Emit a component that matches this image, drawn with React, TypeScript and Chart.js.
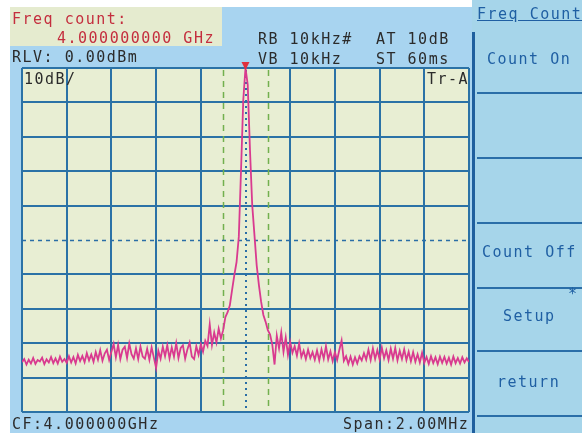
import React, { useEffect, useRef } from "react";
import { Chart, registerables } from "chart.js";

Chart.register(...registerables);

// ---- data ----
const SPAN_START_KHZ = -1000;
const STEP_KHZ = 10;
const levelsDbm = [
  -85.5, -84.6, -86.2, -84.8, -85.9, -84.3, -86.0, -84.9, -85.3, -84.2, -86.1, -84.7, -85.6, -84.0, -85.8, -84.4, -85.9, -83.9, -85.4, -84.6, -85.7,
  -83.8, -85.6, -84.0, -85.9, -83.4, -85.2, -83.7, -85.5, -82.9, -85.0, -83.3, -85.4, -82.6, -84.8, -82.0, -85.1, -83.0, -81.9, -84.9, -82.5,
  -80.2, -84.1, -80.5, -84.6, -81.9, -81.0, -84.3, -80.1, -83.2, -84.5, -81.5, -84.6, -81.0, -83.9, -84.5, -81.6, -84.8, -81.2, -84.2, -87.2,
  -82.2, -84.5, -81.0, -83.8, -80.6, -84.4, -81.2, -83.9, -80.0, -84.3, -81.4, -80.6, -84.5, -81.8, -79.8, -83.9, -84.6, -80.9, -83.4, -80.3,
  -82.5, -79.3, -80.8, -74.5, -80.5, -76.9, -79.8, -75.8, -78.6, -76.2,
  -72.4, -71.0, -69.0, -64.5, -60.2, -56.4, -49.1, -29.7, -9.3, 0.0,
  -4.9, -23.8, -39.8, -48.5, -57.3, -63.1, -68.0, -71.8, -73.8, -76.2,
  -77.5, -80.5, -86.2, -77.8, -81.5, -76.9, -82.5, -78.3, -83.4, -79.6,
  -82.8, -80.9, -83.6, -80.1, -84.0, -82.2, -84.6, -81.9, -84.3, -82.6,
  -84.8, -82.1, -85.0, -81.8, -84.5, -80.9, -84.7, -82.4, -85.2, -82.6,
  -84.9, -81.9, -79.2, -85.1, -83.8, -86.0, -83.9, -86.2, -84.1, -85.9,
  -83.8, -85.0, -82.9, -84.8, -81.9, -84.9, -81.5, -84.6, -82.0, -84.7,
  -81.3, -84.4, -82.1, -84.9, -81.6, -84.5, -81.4, -85.0, -82.2, -84.6,
  -81.8, -84.9, -82.5, -85.3, -82.6, -85.4, -83.2, -85.6, -82.8, -85.7,
  -84.0, -86.0, -83.8, -85.8, -84.1, -86.1, -83.9, -85.7, -84.0, -85.9,
  -84.2, -86.2, -83.9, -85.8, -84.3, -85.9, -84.1, -85.6, -84.4, -85.5,
];
const freqOffsetsKHz = levelsDbm.map((_, i) => SPAN_START_KHZ + i * STEP_KHZ);
const countWindowKHz = [-100, 100];
const displayLineDbm = -50;
const refLevelDbm = 0;
const bottomDbm = -100;
const dbPerDiv = 10;
const kHzPerDiv = 200;

const MONO = "'DejaVu Sans Mono', monospace";

const txt = (
  s: string,
  left: number,
  top: number,
  color: string,
  extra: React.CSSProperties = {}
) => (
  <div
    style={{
      position: "absolute",
      left,
      top,
      color,
      fontFamily: MONO,
      fontSize: 15,
      lineHeight: "15px",
      letterSpacing: "1.5px",
      whiteSpace: "pre",
      ...extra,
    }}
  >
    {s}
  </div>
);

const overlayPlugin = {
  id: "saOverlay",
  beforeDraw(chart: any) {
    const { ctx, chartArea } = chart;
    ctx.save();
    ctx.fillStyle = "#e8eed3";
    ctx.fillRect(chartArea.left, chartArea.top, chartArea.right - chartArea.left, chartArea.bottom - chartArea.top);
    ctx.restore();
  },
  beforeDatasetsDraw(chart: any) {
    const { ctx, chartArea, scales } = chart;
    const xs = scales.x;
    const ys = scales.y;
    ctx.save();
    // frequency-count window markers
    ctx.strokeStyle = "#72b04e";
    ctx.lineWidth = 1.5;
    ctx.setLineDash([6, 5]);
    for (const f of countWindowKHz) {
      const px = Math.round(xs.getPixelForValue(f)) + 0.5;
      ctx.beginPath();
      ctx.moveTo(px, chartArea.top + 2);
      ctx.lineTo(px, chartArea.bottom - 2);
      ctx.stroke();
    }
    // center dotted line
    ctx.strokeStyle = "#2a6ea6";
    ctx.lineWidth = 2;
    ctx.setLineDash([2, 4]);
    const cx = Math.round(xs.getPixelForValue(0));
    ctx.beginPath();
    ctx.moveTo(cx, chartArea.top + 2);
    ctx.lineTo(cx, chartArea.bottom - 2);
    ctx.stroke();
    // display line
    ctx.lineWidth = 1.5;
    ctx.setLineDash([4, 4]);
    const dy = Math.round(ys.getPixelForValue(displayLineDbm)) + 0.5;
    ctx.beginPath();
    ctx.moveTo(chartArea.left, dy);
    ctx.lineTo(chartArea.right, dy);
    ctx.stroke();
    ctx.restore();
  },
  afterDatasetsDraw(chart: any) {
    const { ctx, scales } = chart;
    let mi = 0;
    levelsDbm.forEach((v, i) => {
      if (v > levelsDbm[mi]) mi = i;
    });
    const px = scales.x.getPixelForValue(freqOffsetsKHz[mi]);
    const py = scales.y.getPixelForValue(levelsDbm[mi]);
    ctx.save();
    ctx.fillStyle = "#e0303c";
    ctx.beginPath();
    ctx.moveTo(px - 4, py - 6);
    ctx.lineTo(px + 4, py - 6);
    ctx.lineTo(px, py + 2);
    ctx.closePath();
    ctx.fill();
    ctx.restore();
  },
};

export default function App() {
  const ref = useRef<HTMLCanvasElement | null>(null);

  useEffect(() => {
    if (!ref.current) return;
    const gridColor = "#2b72a6";
    const chart = new Chart(ref.current, {
      type: "line",
      data: {
        datasets: [
          {
            data: freqOffsetsKHz.map((f, i) => ({ x: f, y: levelsDbm[i] })),
            borderColor: "#d93a8f",
            borderWidth: 1.8,
            pointRadius: 0,
            tension: 0,
          },
        ],
      },
      options: {
        responsive: false,
        animation: false,
        events: [],
        layout: { padding: { left: 22, top: 68, right: 113, bottom: 21 } },
        plugins: { legend: { display: false }, tooltip: { enabled: false } },
        scales: {
          x: {
            type: "linear",
            min: SPAN_START_KHZ,
            max: -SPAN_START_KHZ,
            ticks: { display: false, stepSize: kHzPerDiv },
            border: { display: false },
            grid: {
              drawTicks: false,
              lineWidth: 2,
              color: (c: any) => (c.tick && c.tick.value === 0 ? "rgba(0,0,0,0)" : gridColor),
            },
          },
          y: {
            min: bottomDbm,
            max: refLevelDbm,
            ticks: { display: false, stepSize: dbPerDiv },
            border: { display: false },
            grid: {
              drawTicks: false,
              lineWidth: 2,
              color: (c: any) =>
                c.tick && c.tick.value === displayLineDbm ? "rgba(0,0,0,0)" : gridColor,
            },
          },
        },
      },
      plugins: [overlayPlugin],
    });
    return () => chart.destroy();
  }, []);

  const blueTxt = "#1f5fa3";
  const redTxt = "#c42e3e";
  const darkTxt = "#2b2b2b";

  return (
    <div style={{ position: "fixed", left: 0, top: 0, width: 582, height: 433, background: "#ffffff", overflow: "hidden" }}>
      {/* screen background */}
      <div style={{ position: "absolute", left: 10, top: 7, width: 462, height: 426, background: "#a8d4f0" }} />
      {/* freq count box */}
      <div style={{ position: "absolute", left: 10, top: 7, width: 212, height: 39, background: "#e5ebcf" }} />
      {/* right softkey panel */}
      <div style={{ position: "absolute", left: 472, top: 0, width: 110, height: 433, background: "#a6d5ea" }} />
      <div style={{ position: "absolute", left: 472, top: 32, width: 3, height: 401, background: "#1f5f9e" }} />
      {[92, 157, 222, 287, 350, 415].map((y) => (
        <div key={y} style={{ position: "absolute", left: 477, top: y, width: 105, height: 2, background: "#2a6ea8" }} />
      ))}
      <canvas ref={ref} width={582} height={433} style={{ position: "absolute", left: 0, top: 0, width: 582, height: 433 }} />

      {txt("Freq count:", 12, 12, redTxt)}
      {txt("4.000000000 GHz", 57, 31, redTxt)}
      {txt("RLV: 0.00dBm", 12, 50, darkTxt)}
      {txt("RB 10kHz#", 258, 32, darkTxt)}
      {txt("AT 10dB", 376, 32, darkTxt)}
      {txt("VB 10kHz", 258, 52, darkTxt)}
      {txt("ST 60ms", 376, 52, darkTxt)}
      {txt("10dB/", 24, 72, darkTxt)}
      {txt("Tr-A", 427, 72, darkTxt)}
      {txt("CF:4.000000GHz", 12, 417, darkTxt)}
      {txt("Span:2.00MHz", 343, 417, darkTxt)}

      {txt("Freq Count", 477, 7, blueTxt, { textDecoration: "underline" })}
      {txt("Count On", 487, 52, blueTxt)}
      {txt("Count Off", 482, 245, blueTxt)}
      {txt("*", 568, 287, blueTxt)}
      {txt("Setup", 503, 309, blueTxt)}
      {txt("return", 497, 375, blueTxt)}
    </div>
  );
}
